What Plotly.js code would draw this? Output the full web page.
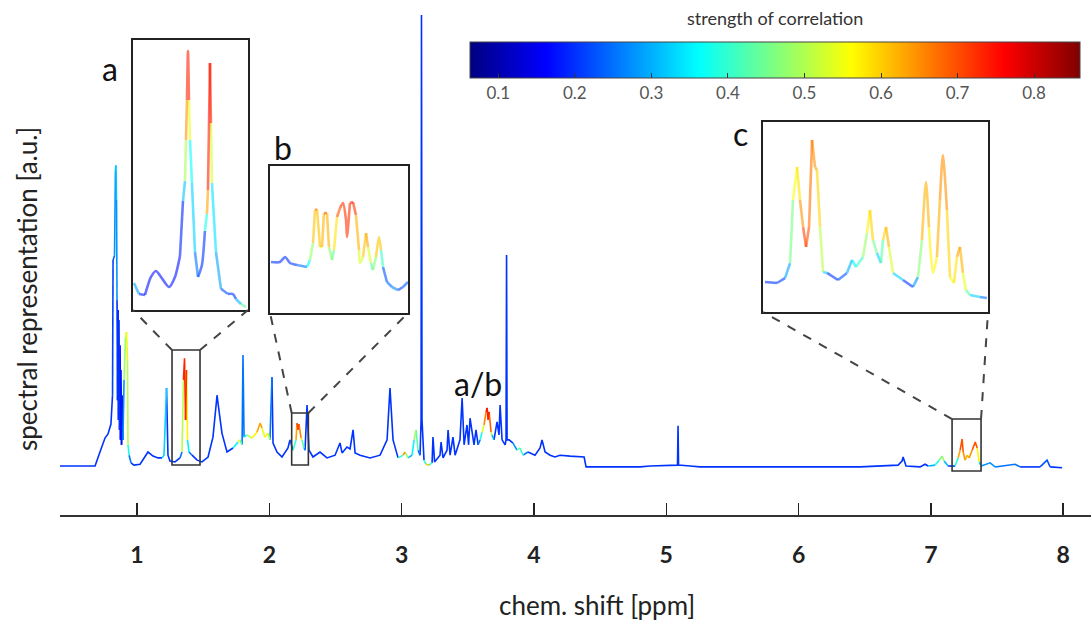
<!DOCTYPE html>
<html><head><meta charset="utf-8">
<script src="https://cdn.plot.ly/plotly-3.0.1.min.js"></script>
<style>html,body{margin:0;padding:0;background:#fff}#chart{width:1091px;height:631px}</style>
</head><body><div id="chart"></div>
<script>
// ---- main spectrum: chemical shift [ppm], intensity [a.u.], correlation strength ----
const ppm = [
0.395,0.683,0.720,0.758,0.781,0.803,0.815,0.819,0.830,0.837,
0.841,0.845,0.849,0.853,0.856,0.860,0.864,0.868,0.872,0.875,
0.879,0.883,0.887,0.894,0.902,0.913,0.921,0.928,0.932,0.940,
0.955,0.977,1.023,1.083,1.121,1.159,1.189,1.204,1.223,1.234,
1.249,1.287,1.325,1.340,1.351,1.359,1.367,1.374,1.382,1.393,
1.416,1.454,1.491,1.537,1.574,1.597,1.605,1.612,1.642,1.680,
1.726,1.763,1.779,1.794,1.801,1.809,1.831,1.869,1.907,1.930,
1.945,1.967,1.990,2.005,2.020,2.028,2.058,2.096,2.141,2.156,
2.179,2.202,2.209,2.217,2.224,2.240,2.247,2.262,2.270,2.285,
2.300,2.330,2.383,2.436,2.497,2.534,2.550,2.587,2.610,2.633,
2.648,2.686,2.761,2.837,2.890,2.912,2.935,2.973,3.011,3.026,
3.048,3.079,3.094,3.109,3.124,3.139,3.147,3.150,3.154,3.169,
3.184,3.207,3.230,3.237,3.249,3.290,3.298,3.313,3.343,3.351,
3.366,3.388,3.404,3.441,3.457,3.472,3.494,3.506,3.517,3.532,
3.547,3.562,3.578,3.593,3.608,3.623,3.638,3.646,3.653,3.661,
3.676,3.683,3.698,3.721,3.736,3.744,3.759,3.782,3.789,3.793,
3.797,3.812,3.842,3.872,3.895,3.918,3.955,4.008,4.046,4.061,
4.084,4.122,4.159,4.197,4.273,4.379,4.394,4.802,4.878,5.074,
5.085,5.089,5.093,5.180,5.255,6.011,6.465,6.752,6.782,6.790,
6.805,6.812,6.918,6.956,6.979,7.032,7.062,7.085,7.100,7.130,
7.183,7.206,7.221,7.236,7.244,7.259,7.274,7.289,7.312,7.335,
7.350,7.365,7.380,7.448,7.485,7.636,7.674,7.825,7.878,7.901,7.992];
const intensity = [
0,0,3.1,6.2,7.1,9.3,15.7,45.7,46.6,65.6,
66.7,59.0,36.8,14.6,34.6,10.2,32.4,8.0,26.8,5.8,
21.3,4.7,15.7,5.8,19.1,28.4,29.7,23.5,4.7,2.4,
0.7,0.2,0.4,3.1,2.2,1.8,1.8,2.4,17.3,2.4,
1.1,0.9,1.8,3.1,19.1,23.9,10.2,21.3,5.8,3.1,
2.4,1.3,0.9,2.0,6.4,14.6,15.7,14.0,7.3,3.1,
4.0,5.3,5.8,4.7,24.6,6.4,6.9,6.2,7.5,9.5,
8.4,6.4,7.3,5.8,19.7,5.1,3.1,2.0,4.0,5.8,
3.5,5.8,9.5,8.0,9.3,6.2,5.8,4.0,3.5,13.5,
3.5,2.0,3.1,1.8,2.4,5.1,2.9,4.2,3.8,8.0,
2.9,2.4,1.8,2.4,5.8,17.3,5.8,1.8,2.4,3.1,
1.8,2.4,5.8,8.0,3.5,2.4,10.2,100,10.2,1.3,
0.4,0.2,0.7,6.4,0.9,2.4,5.3,1.8,3.5,8.0,
2.4,6.4,2.4,5.8,15.1,4.7,9.1,4.7,10.6,8.0,
4.7,8.0,4.7,5.8,7.5,9.1,12.0,12.9,10.2,12.0,
7.5,6.9,5.8,9.8,6.9,13.5,5.8,4.7,5.8,46.8,
5.8,5.8,5.1,3.5,4.0,2.4,3.1,2.4,4.0,5.8,
3.1,2.4,2.0,2.4,2.2,2.0,-0.2,-0.2,0,0.2,
0.2,8.9,0.2,0,-0.2,-0.2,-0.2,0.2,1.1,2.0,
0.9,0,-0.2,0.4,0,0.2,1.3,2.2,1.1,0,
0,1.8,3.5,6.0,3.1,1.3,2.4,1.8,3.5,5.3,
4.0,0.9,0,0.7,-0.2,0.4,-0.2,-0.2,1.3,-0.2,-0.4];
const correlation = [
.2,.2,.2,.2,.2,.2,.2,.22,.25,.3,
.32,.3,.25,.15,.22,.12,.28,.12,.22,.1,
.25,.1,.15,.1,.45,.5,.55,.55,.45,.3,
.2,.2,.2,.2,.2,.2,.2,.45,.2,.2,
.2,.2,.2,.3,.7,.76,.7,.74,.4,.3,
.2,.2,.2,.2,.2,.2,.2,.2,.2,.2,
.2,.5,.55,.3,.2,.3,.45,.55,.6,.66,
.6,.5,.65,.3,.2,.2,.2,.2,.2,.2,
.25,.55,.72,.7,.72,.6,.5,.35,.2,.2,
.2,.2,.2,.2,.2,.2,.2,.2,.2,.2,
.2,.2,.2,.2,.2,.2,.2,.2,.62,.66,
.3,.3,.4,.55,.3,.2,.2,.2,.2,.2,
.62,.6,.2,.2,.2,.2,.2,.2,.2,.2,
.2,.2,.2,.2,.2,.2,.2,.2,.2,.2,
.2,.2,.2,.3,.45,.6,.72,.76,.7,.76,
.6,.4,.2,.2,.2,.2,.2,.2,.2,.2,
.2,.2,.2,.35,.5,.3,.2,.2,.2,.2,
.2,.2,.2,.2,.2,.2,.2,.2,.2,.2,
.2,.2,.2,.2,.2,.2,.2,.2,.2,.2,
.2,.2,.2,.2,.2,.4,.35,.55,.4,.2,
.2,.58,.68,.72,.68,.6,.64,.6,.68,.72,
.68,.45,.2,.35,.2,.3,.2,.2,.25,.2,.2];

// ---- zoom a ----
const insetA_ppm = [1.2664,1.2756,1.2867,1.2977,1.3069,1.3161,1.3308,1.3419,1.3511,1.3566,1.3603,1.3621,1.3640,1.3658,1.3676,1.3695,1.3731,1.3787,1.3842,1.3915,1.3970,1.4007,1.4026,1.4044,1.4063,1.4081,1.4099,1.4173,1.4265,1.4394,1.4486,1.4541,1.4633,1.4726];
const insetA_int = [2.77,1.73,1.64,3.34,3.90,3.34,2.39,3.34,5.32,10.51,12.40,16.27,20.05,24.68,20.05,16.27,12.21,5.70,3.34,4.47,7.68,9.29,11.55,17.31,23.55,17.88,12.21,5.70,2.22,1.73,1.73,1.26,0.79,0.50];
const insetA_corr = [.38,.2,.18,.18,.18,.18,.18,.18,.18,.2,.42,.57,.72,.74,.72,.38,.36,.3,.2,.2,.2,.55,.72,.74,.74,.72,.35,.33,.25,.2,.2,.2,.4,.45];
// ---- zoom b ----
const insetB_ppm = [2.1699,2.1781,2.1827,2.1873,2.1937,2.2028,2.2055,2.2083,2.2101,2.2119,2.2147,2.2165,2.2183,2.2210,2.2229,2.2256,2.2274,2.2302,2.2329,2.2357,2.2384,2.2393,2.2420,2.2448,2.2475,2.2503,2.2512,2.2539,2.2567,2.2585,2.2612,2.2630,2.2658,2.2685,2.2704,2.2722,2.2758,2.2804,2.2859,2.2905,2.2950];
const insetB_int = [4.22,4.22,4.61,4.14,3.98,3.83,4.38,5.71,8.30,8.37,5.39,5.39,8.06,8.06,5.39,4.38,5.16,7.75,8.45,8.84,7.51,6.18,8.84,8.92,7.90,5.16,4.14,4.61,6.49,5.39,4.14,3.59,4.61,6.18,5.16,3.83,2.65,2.26,2.02,2.26,2.65];
const insetB_corr = [.2,.2,.2,.2,.2,.3,.42,.55,.66,.67,.55,.55,.7,.7,.55,.38,.5,.66,.72,.73,.72,.72,.73,.73,.7,.55,.5,.55,.66,.6,.45,.38,.55,.66,.55,.25,.2,.3,.22,.22,.25];
// ---- zoom c ----
const insetC_ppm = [7.1619,7.1736,7.1814,7.1863,7.1892,7.1931,7.1960,7.1990,7.2019,7.2048,7.2077,7.2106,7.2125,7.2155,7.2184,7.2223,7.2330,7.2417,7.2466,7.2505,7.2573,7.2612,7.2641,7.2670,7.2709,7.2748,7.2768,7.2797,7.2826,7.2865,7.2962,7.3060,7.3108,7.3147,7.3186,7.3215,7.3254,7.3293,7.3322,7.3351,7.3390,7.3420,7.3459,7.3488,7.3517,7.3546,7.3575,7.3614,7.3711,7.3779];
const insetC_int = [0.71,0.65,0.95,1.86,5.69,7.69,5.69,4.05,2.84,4.05,9.33,7.69,7.51,4.05,1.32,1.26,0.83,1.26,2.05,1.62,2.23,3.69,5.08,3.26,2.47,1.86,3.26,4.05,2.84,1.26,0.83,0.41,1.01,3.26,6.78,4.05,1.26,2.23,5.69,8.42,5.08,1.01,0.65,2.23,2.84,1.26,0.23,-0.08,-0.20,-0.26];
const insetC_corr = [.2,.2,.22,.35,.55,.56,.6,.7,.72,.68,.66,.64,.62,.56,.45,.2,.2,.25,.35,.35,.45,.5,.65,.55,.35,.3,.55,.65,.6,.45,.2,.2,.35,.58,.65,.6,.55,.6,.64,.65,.63,.55,.55,.62,.64,.6,.5,.35,.3,.2];

const xTicks = [1,2,3,4,5,6,7,8];
const cbTicks = [0.1,0.2,0.3,0.4,0.5,0.6,0.7,0.8];
const labels = ['a','b','c','a/b'];

// ---- layout constants ----
const FONT = 'Lato, "Open Sans", sans-serif';
const XR = [0.418, 8.21], YR = [-10.86, 100];
const CMIN = 0.063, CMAX = 0.86;
const zoomA = {x:[1.2646,1.4762], y:[0.22,25.72], dx:[0.0708,0.1823], dy:[0.41,0.95]};
const zoomB = {x:[2.169,2.295], y:[0.22,11.75], dx:[0.2037,0.3375], dy:[0.404,0.698]};
const zoomC = {x:[7.160,7.379], y:[-1.11,10.42], dx:[0.6819,0.9001], dy:[0.406,0.786]};

const jetStops = [[0,[0,0,128]],[0.125,[0,0,255]],[0.375,[0,255,255]],[0.625,[255,255,0]],[0.875,[255,0,0]],[1,[128,0,0]]];
const jetScale = jetStops.map(s => [s[0], 'rgb(' + s[1].join(',') + ')']);
function jet(t){
  t = Math.max(0, Math.min(1, t));
  for (let i = 0; i < jetStops.length - 1; i++){
    const a = jetStops[i], b = jetStops[i+1];
    if (t <= b[0]){
      const f = (t - a[0]) / (b[0] - a[0]);
      return 'rgb(' + a[1].map((v,k) => Math.round(v + f*(b[1][k]-v))).join(',') + ')';
    }
  }
  return 'rgb(128,0,0)';
}
function coloredLine(xs, ys, cs, xa, ya, width, opacity, shape){
  const N = 64, groups = {};
  const n = Math.min(xs.length, ys.length, cs.length);
  let prev = -1;
  for (let i = 0; i < n - 1; i++){
    const c = (cs[i] + cs[i+1]) / 2;
    const lvl = Math.round(Math.max(0, Math.min(1, (c - CMIN) / (CMAX - CMIN))) * (N - 1));
    if (!groups[lvl]) groups[lvl] = {x:[], y:[]};
    const g = groups[lvl];
    if (lvl !== prev){ g.x.push(null, xs[i]); g.y.push(null, ys[i]); }
    g.x.push(xs[i+1]); g.y.push(ys[i+1]);
    prev = lvl;
  }
  return Object.keys(groups).map(k => ({
    type:'scatter', mode:'lines', x:groups[k].x, y:groups[k].y, xaxis:xa, yaxis:ya,
    line:{color: jet(k/(N-1)), width: width, shape: shape || 'linear', smoothing: 0.7}, opacity: opacity,
    hoverinfo:'skip', showlegend:false, connectgaps:false
  }));
}

let traces = [];
traces = traces.concat(coloredLine(ppm, intensity, correlation, 'x', 'y', 1.6, 1));
traces = traces.concat(coloredLine(insetA_ppm, insetA_int, insetA_corr, 'x2', 'y2', 2.6, 0.6, 'spline'));
traces = traces.concat(coloredLine(insetB_ppm, insetB_int, insetB_corr, 'x3', 'y3', 2.6, 0.6, 'spline'));
traces = traces.concat(coloredLine(insetC_ppm, insetC_int, insetC_corr, 'x4', 'y4', 2.6, 0.6, 'spline'));

// colour bar carrier
traces.push({
  type:'scatter', mode:'markers', x:[4], y:[50], hoverinfo:'skip', showlegend:false,
  marker:{size:1, opacity:0, color:[0.5], colorscale: jetScale, cmin: CMIN, cmax: CMAX, showscale:true,
    colorbar:{orientation:'h', thickness:36, thicknessmode:'pixels', len:610, lenmode:'pixels',
      x:(470-60)/1031, xanchor:'left', y:(515-42)/500, yanchor:'top', xpad:0, ypad:0,
      outlinewidth:1, outlinecolor:'#444', tickvals: cbTicks, ticktext: cbTicks.map(v => v.toFixed(1)),
      ticks:'inside', ticklen:5, tickcolor:'#333', tickfont:{family:FONT, size:17, color:'#555'}}}
});

const xP = v => (v - XR[0]) / (XR[1] - XR[0]);
const yP = v => (v - YR[0]) / (YR[1] - YR[0]);
const shapes = [];
[zoomA, zoomB, zoomC].forEach(z => {
  shapes.push({type:'rect', xref:'x', yref:'y', x0:z.x[0], x1:z.x[1], y0:z.y[0], y1:z.y[1], line:{color:'#333', width:1.6}});
  shapes.push({type:'line', xref:'paper', yref:'paper', x0:xP(z.x[0]), y0:yP(z.y[1]), x1:z.dx[0], y1:z.dy[0], line:{color:'#444', width:2, dash:'dash'}});
  shapes.push({type:'line', xref:'paper', yref:'paper', x0:xP(z.x[1]), y0:yP(z.y[1]), x1:z.dx[1], y1:z.dy[0], line:{color:'#444', width:2, dash:'dash'}});
});

function insetAxes(z, n){
  const ax = {showline:true, mirror:true, linecolor:'#222', linewidth:2, showticklabels:false, ticks:'', showgrid:false, zeroline:false, fixedrange:true};
  const o = {};
  o['xaxis'+n] = Object.assign({}, ax, {domain:z.dx, range:z.x, anchor:'y'+n});
  o['yaxis'+n] = Object.assign({}, ax, {domain:z.dy, range:z.y, anchor:'x'+n});
  return o;
}

const labelPos = [[0.0485,0.894],[0.2163,0.736],[0.6605,0.764],[0.4054,0.264]];
const annotations = labels.map((t,i) => ({text:t, xref:'paper', yref:'paper', x:labelPos[i][0], y:labelPos[i][1], xanchor:'center', yanchor:'middle', showarrow:false, font:{family:FONT, size:32, color:'#111'}}));
annotations.push({text:'strength of correlation', xref:'paper', yref:'paper', x:(775-60)/1031, y:(515-18)/500, xanchor:'center', yanchor:'middle', showarrow:false, font:{family:FONT, size:18, color:'#333'}});
annotations.push({text:'chem. shift [ppm]', xref:'paper', yref:'paper', x:(597-60)/1031, y:(515-605)/500, xanchor:'center', yanchor:'middle', showarrow:false, font:{family:FONT, size:26, color:'#222'}});
annotations.push({text:'spectral representation [a.u.]', xref:'paper', yref:'paper', x:(27-60)/1031, y:(515-289)/500, xanchor:'center', yanchor:'middle', textangle:-90, showarrow:false, font:{family:FONT, size:26, color:'#222'}});

const layout = Object.assign({
  width:1091, height:631, margin:{l:60, r:0, t:15, b:116},
  paper_bgcolor:'#fff', plot_bgcolor:'#fff', showlegend:false,
  font:{family:FONT},
  xaxis:{range:XR, tickvals:xTicks, ticktext:xTicks.map(String), ticks:'inside', ticklen:12, tickwidth:1.5, tickcolor:'#222',
    showline:true, linecolor:'#333', linewidth:2, showgrid:false, zeroline:false, ticklabelstandoff:18,
    tickfont:{family:FONT, size:23, weight:'bold', color:'#222'}},
  yaxis:{range:YR, showline:false, showticklabels:false, ticks:'', showgrid:false, zeroline:false},
  shapes: shapes, annotations: annotations
}, insetAxes(zoomA, 2), insetAxes(zoomB, 3), insetAxes(zoomC, 4));

Plotly.newPlot('chart', traces, layout, {displayModeBar:false, staticPlot:true});
</script></body></html>
